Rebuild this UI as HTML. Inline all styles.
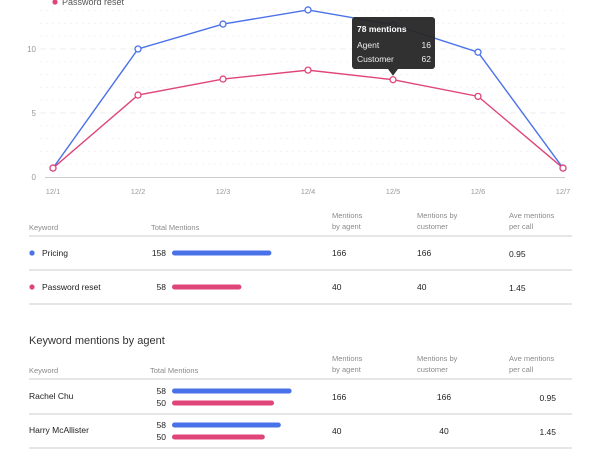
<!DOCTYPE html>
<html><head><meta charset="utf-8"><style>
body{margin:0;width:600px;height:450px;background:#fff;font-family:"Liberation Sans",sans-serif;overflow:hidden;position:relative}
svg{position:absolute;left:0;top:0}
.t{font-family:"Liberation Sans",sans-serif}
</style></head><body>
<svg id="chart" width="600" height="450"></svg>
<script>
const categories=["12/1","12/2","12/3","12/4","12/5","12/6","12/7"];
const pricing=[0.7,10,11.95,13.05,11.9,9.75,0.7];
const passwordReset=[0.7,6.4,7.65,8.35,7.6,6.3,0.7];
const yTicks=[0,5,10];
const kwNames=["Pricing","Password reset"];
const kwTotals=[158,58];
const kwAgent=[166,40];
const kwCustomer=[166,40];
const kwAve=["0.95","1.45"];
const agNames=["Rachel Chu","Harry McAllister"];
const agPricing=[58,58];
const agReset=[50,50];
const agAgent=[166,40];
const agCustomer=[166,40];
const agAve=["0.95","1.45"];
const tipIndex=4;

const NS="http://www.w3.org/2000/svg";
const svg=document.getElementById('chart');
function el(tag,attrs,parent){const e=document.createElementNS(NS,tag);for(const k in attrs)e.setAttribute(k,attrs[k]);(parent||svg).appendChild(e);return e;}
function txt(x,y,s,attrs){const e=el('text',Object.assign({x:x,y:y,class:'t'},attrs));e.textContent=s;return e;}
const x=i=>53+i*85;
const y=v=>177-v*12.8;
const BLUE="#4a72e8",PINK="#e0457a";

for(let v=1;v<=13;v++){
  const g=el('line',{x1:40,x2:565,y1:y(v),y2:y(v),stroke:v%5==0?'#ececec':'#f3f3f3','stroke-dasharray':v%5==0?'6,4':'2,4','stroke-width':1});
  
  
}
const ax=el('line',{x1:45,x2:565,y1:177.5,y2:177.5,stroke:'#ccc'});


yTicks.forEach(v=>{const t=txt(36,y(v)+3,String(v),{'font-size':8,fill:'#999','text-anchor':'end'});

});
categories.forEach((c,i)=>{const t=txt(x(i),194,c,{'font-size':7.5,fill:'#999','text-anchor':'middle'});

});

const ld=el('circle',{cx:55,cy:2,r:2.6,fill:PINK});


const lt=txt(62,5,"Password reset",{'font-size':9,fill:'#555'});



function series(vals,color,name){
  const p=el('polyline',{points:vals.map((v,i)=>x(i)+','+y(v)).join(' '),fill:'none',stroke:color,'stroke-width':1.4});
  
  
  vals.forEach((v,i)=>{const c=el('circle',{cx:x(i),cy:y(v),r:3,fill:'#fff',stroke:color,'stroke-width':1.3});
  
  });
}
series(pricing,BLUE,'pricing');
series(passwordReset,PINK,'password-reset');

const tx=x(tipIndex),ty=y(passwordReset[tipIndex]);
const tg=el('g',{});


el('rect',{x:tx-41,y:17,width:83,height:52,rx:3,fill:'rgba(38,38,38,0.95)'},tg);
el('path',{d:`M${tx-5},69 L${tx},${ty-4} L${tx+5},69Z`,fill:'rgba(38,38,38,0.95)'},tg);
const agentV=16,custV=62;
let e=txt(tx-36,32,(agentV+custV)+" mentions",{'font-size':8.5,'font-weight':'bold',fill:'#fff'});tg.appendChild(e);
e=txt(tx-36,48,"Agent",{'font-size':8.5,fill:'#eee'});tg.appendChild(e);
e=txt(tx+38,48,String(agentV),{'font-size':8.5,fill:'#eee','text-anchor':'end'});tg.appendChild(e);
e=txt(tx-36,62,"Customer",{'font-size':8.5,fill:'#eee'});tg.appendChild(e);
e=txt(tx+38,62,String(custV),{'font-size':8.5,fill:'#eee','text-anchor':'end'});tg.appendChild(e);

function header(y0,tmX){
  const H=[["Keyword",29],["Total Mentions",tmX],["Mentions|by agent",332],["Mentions by|customer",417],["Ave mentions|per call",509]];
  H.forEach(h=>{
    const parts=h[0].split('|');
    parts.forEach((p,j)=>{const t=txt(h[1],parts.length==1?y0+12:y0+j*11,p,{'font-size':7.5,fill:'#8a8a8a'});
    
    });
  });
}
function hline(yy){const l=el('line',{x1:29,x2:572,y1:yy,y2:yy,stroke:'#d8d8d8','stroke-width':1.2});

}
function bar(y0,w,color){const r=el('rect',{x:172,y:y0-2.5,width:w,height:5,rx:2.5,fill:color});

}

header(218,151);
hline(236);
kwNames.forEach((n,i)=>{
  const cy=253+i*34;
  const d=el('circle',{cx:32,cy:cy,r:2.6,fill:i==0?BLUE:PINK});
  
  
  let t=txt(42,cy+3,n,{'font-size':8.5,fill:'#222'});
  
  
  t=txt(166,cy+3,String(kwTotals[i]),{'font-size':8.5,fill:'#222','text-anchor':'end'});
  
  
  bar(cy,52+0.3*kwTotals[i],i==0?BLUE:PINK);
  [[kwAgent[i],332],[kwCustomer[i],417],[kwAve[i],509]].forEach(c=>{
    const v=txt(c[1],cy+3+(c[1]==509?1:0),String(c[0]),{'font-size':8.5,fill:'#222'});
    
    });
  hline(270+i*34);
});

const title=txt(29,344,"Keyword mentions by agent",{'font-size':11,fill:'#333'});


header(361,150);
hline(379);
agNames.forEach((n,i)=>{
  const cy=397+i*34;
  let t=txt(29,cy+2,n,{'font-size':8.5,fill:'#222'});
  
  
  [[agPricing[i],-6,BLUE],[agReset[i],6,PINK]].forEach(b=>{
    const l=txt(166,cy+b[1]+3,String(b[0]),{'font-size':8.5,fill:'#222','text-anchor':'end'});
    
    
    bar(cy+b[1],(2.2*b[0]-8)*(i==0?1:0.91),b[2]);
  });
  [[agAgent[i],332,'start'],[agCustomer[i],444,'middle'],[agAve[i],556,'end']].forEach(c=>{
    const v=txt(c[1],cy+3+(c[1]==556?1:0),String(c[0]),{'font-size':8.5,fill:'#222','text-anchor':c[2]});
    
    });
  hline(414+i*34);
});
</script>
</body></html>
